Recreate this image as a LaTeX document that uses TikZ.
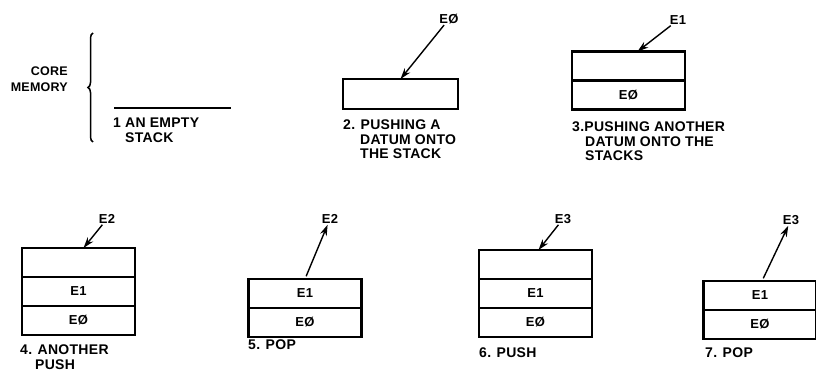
\documentclass[tikz,border=0pt]{standalone}
\usepackage{fontspec}
\setmainfont{Liberation Sans}
\newfontfamily\lt[LetterSpace=2]{Liberation Sans}
\usetikzlibrary{arrows.meta,positioning,decorations.pathreplacing}

\begin{document}
\begin{tikzpicture}[x=1pt,y=-1pt,
  c/.style={draw,line width=2.2pt,outer sep=0pt,minimum width=113pt,minimum height=29pt,font=\lt\bfseries\fontsize{13}{14}\selectfont},
  txt/.style={anchor=north west,align=left,inner sep=0pt,font=\lt\bfseries\fontsize{14}{14.5}\selectfont},
  e/.style={font=\lt\bfseries\fontsize{13}{14}\selectfont,inner sep=1pt},
  a/.style={line width=1.4pt,-{Stealth[length=11pt,width=7pt]}}]
\useasboundingbox (0,0) rectangle (816,371);
% 1: empty stack
\node[e,anchor=east,align=right,font=\lt\bfseries\fontsize{12.5}{16}\selectfont] (mem) at (69,79) {CORE\\MEMORY};
\draw[line width=1.5pt,decorate,decoration={brace,amplitude=5pt}] (93,142) -- (93,33);
\draw[line width=2.2pt] (114,108) -- (231,108);
\node[txt] (t1) at (113,118) {1 AN EMPTY\\\hspace*{12pt}STACK};
% 2
\node[c,minimum width=115pt,minimum height=30pt] (s2) at (400.5,94) {};
\node[e] (l2) at (449,19) {EØ}; \draw[a] (l2) -- (s2.north);
\node[txt] (t2) at (343,120) {2. PUSHING A\\\hspace*{17pt}DATUM ONTO\\\hspace*{17pt}THE STACK};
% 3
\node[c] (s3a) at (628.5,66) {}; \node[c,below=0pt of s3a] (s3b) {EØ};
\node[e] (l3) at (678,20) {E1}; \draw[a] (l3) -- ([xshift=9pt]s3a.north);
\node[txt] (t3) at (572,122) {3.PUSHING ANOTHER\\\hspace*{13pt}DATUM ONTO THE\\\hspace*{13pt}STACKS};
% 4
\node[c] (s4a) at (78.5,262.5) {}; \node[c,below=0pt of s4a] (s4b) {E1};
\node[c,below=0pt of s4b] (s4c) {EØ};
\node[e] (l4) at (107,219) {E2}; \draw[a] (l4) -- ([xshift=5pt]s4a.north);
\node[txt] (t4) at (20,345) {4. ANOTHER\\\hspace*{15pt}PUSH};
% 5
\node[c] (s5a) at (305,293.5) {E1}; \node[c,below=0pt of s5a] (s5b) {EØ};
\node[e] (l5) at (330,219) {E2}; \draw[a,shorten <=3pt] (s5a.north) -- (l5);
\node[txt] (t5) at (248,340) {5. POP};
% 6
\node[c] (s6a) at (535.5,264.5) {}; \node[c,below=0pt of s6a] (s6b) {E1};
\node[c,below=0pt of s6b] (s6c) {EØ};
\node[e] (l6) at (563,219) {E3}; \draw[a] (l6) -- ([xshift=3pt]s6a.north);
\node[txt] (t6) at (479,348) {6. PUSH};
% 7
\node[c] (s7a) at (760,295.5) {E1}; \node[c,below=0pt of s7a] (s7b) {EØ};
\node[e] (l7) at (791,220) {E3}; \draw[a,shorten <=3pt] ([xshift=2pt]s7a.north) -- (l7);
\node[txt] (t7) at (705,348) {7. POP};
\end{tikzpicture}
\end{document}
